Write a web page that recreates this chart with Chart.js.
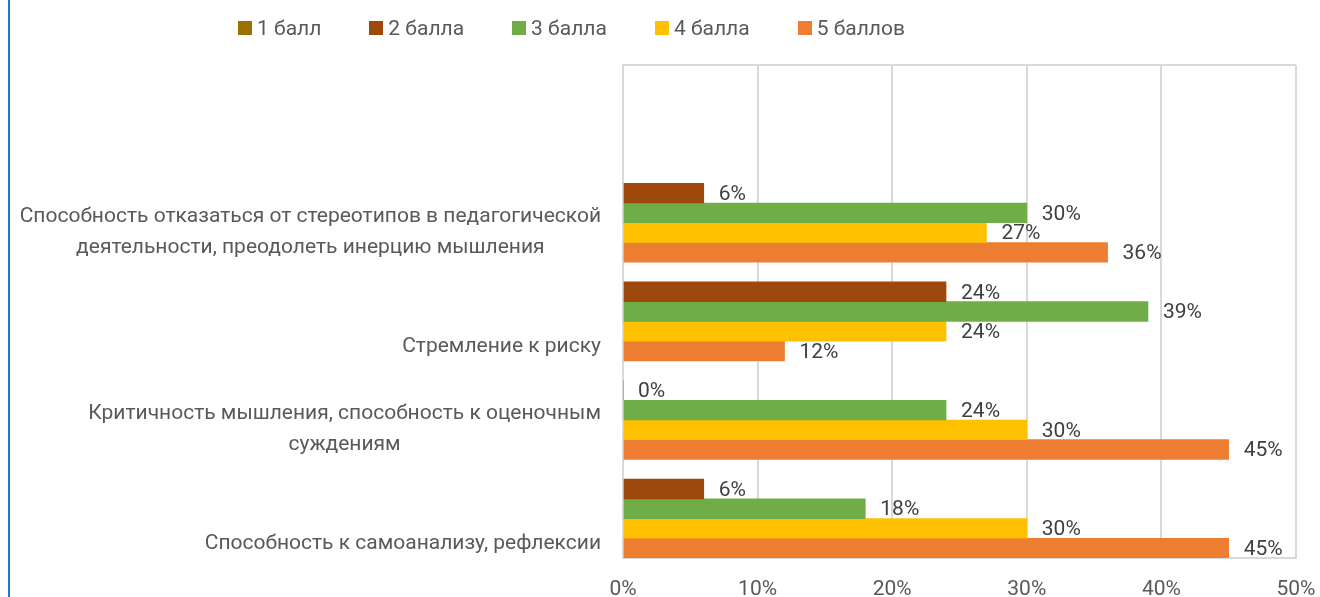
<!DOCTYPE html>
<html><head><meta charset="utf-8">
<script src="https://cdn.jsdelivr.net/npm/chart.js@4/dist/chart.umd.min.js"></script>
<style>
html,body{margin:0;padding:0;background:#fff;}
#wrap{position:relative;width:1320px;height:597px;overflow:hidden;background:#fff;}
#edge{position:absolute;left:8px;top:0;width:2px;height:597px;background:#1F78D0;}
#legend{position:absolute;left:238px;top:14px;height:28px;display:flex;align-items:center;font-family:Roboto,sans-serif;font-size:21px;color:#595959;white-space:nowrap;}
.item{display:flex;align-items:center;margin-right:48px;}
.sw{width:14px;height:14px;margin-right:5px;display:inline-block;}
canvas{position:absolute;left:0;top:0;}
</style></head>
<body><div id="wrap"><canvas id="c" width="1320" height="597"></canvas><div id="edge"></div><div id="legend"></div></div>
<script>
const categories = [
  '',
  ['Способность отказаться от стереотипов в педагогической', 'деятельности, преодолеть инерцию мышления'],
  'Стремление к риску',
  ['Критичность мышления, способность к оценочным', 'суждениям'],
  'Способность к самоанализу, рефлексии'
];
const seriesNames = ['1 балл', '2 балла', '3 балла', '4 балла', '5 баллов'];
const score1 = [null, null, null, null, null];
const score2 = [null, 6, 24, 0, 6];
const score3 = [null, 30, 39, 24, 18];
const score4 = [null, 27, 24, 30, 30];
const score5 = [null, 36, 12, 45, 45];
const xTicks = [0, 10, 20, 30, 40, 50];
const colors = ['#997300', '#9E480E', '#70AD47', '#FFC000', '#ED7D31'];

const FONT = 'Roboto, sans-serif';
const FS = 21;
const GRID = '#D9D9D9';

// HTML legend built from the series names
const lg = document.getElementById('legend');
seriesNames.forEach((n, i) => {
  const it = document.createElement('div'); it.className = 'item';
  const sw = document.createElement('span'); sw.className = 'sw'; sw.style.background = colors[i];
  const tx = document.createElement('span'); tx.textContent = n;
  it.appendChild(sw); it.appendChild(tx); lg.appendChild(it);
});

const seriesData = [score1, score2, score3, score4, score5];

const plotBorder = {
  id: 'plotBorder',
  beforeDatasetsDraw(chart) {
    const {ctx, chartArea: a} = chart;
    ctx.save();
    ctx.strokeStyle = GRID; ctx.lineWidth = 2;
    ctx.beginPath(); ctx.moveTo(a.left, a.top); ctx.lineTo(a.right, a.top); ctx.stroke();
    ctx.restore();
  }
};

const valueLabels = {
  id: 'valueLabels',
  afterDatasetsDraw(chart) {
    const ctx = chart.ctx;
    ctx.save();
    ctx.font = FS + 'px ' + FONT;
    ctx.fillStyle = '#404040';
    ctx.textAlign = 'left'; ctx.textBaseline = 'middle';
    chart.data.datasets.forEach((ds, di) => {
      const meta = chart.getDatasetMeta(di);
      meta.data.forEach((el, i) => {
        const v = ds.data[i];
        if (v === null || v === undefined) return;
        ctx.fillText(v + '%', el.x + 15, el.y + 1.5);
      });
    });
    ctx.restore();
  }
};

const catLabels = {
  id: 'catLabels',
  afterDraw(chart) {
    const ctx = chart.ctx, ys = chart.scales.y, a = chart.chartArea;
    ctx.save();
    ctx.font = FS + 'px ' + FONT;
    ctx.fillStyle = '#595959';
    ctx.textAlign = 'center'; ctx.textBaseline = 'middle';
    categories.forEach((lab, i) => {
      const lines = Array.isArray(lab) ? lab : [lab];
      if (!lines.join('')) return;
      const c = ys.getPixelForValue(i);
      const maxW = Math.max(...lines.map(l => ctx.measureText(l).width));
      const cx = a.left - 22 - maxW / 2;
      lines.forEach((l, k) => ctx.fillText(l, cx, c + 35 - (lines.length - 1 - k) * 31));
    });
    ctx.restore();
  }
};

new Chart(document.getElementById('c'), {
  type: 'bar',
  data: {
    labels: categories,
    datasets: seriesNames.map((n, i) => ({
      label: n,
      data: seriesData[i],
      backgroundColor: colors[i],
      borderWidth: 0,
      categoryPercentage: 1,
      barPercentage: 1
    }))
  },
  options: {
    indexAxis: 'y',
    responsive: false,
    animation: false,
    layout: {padding: {top: 65, right: 24, bottom: 0, left: 0}},
    plugins: {legend: {display: false}, tooltip: {enabled: false}},
    scales: {
      x: {
        type: 'linear', min: 0, max: 50,
        afterBuildTicks: s => { s.ticks = xTicks.map(v => ({value: v})); },
        afterFit: s => { s.height = 39; s.paddingLeft = 0; s.paddingRight = 0; },
        ticks: {callback: v => v + '%', font: {family: FONT, size: FS}, color: '#595959', padding: 19, maxRotation: 0, autoSkip: false},
        grid: {color: GRID, lineWidth: 2, drawTicks: false},
        border: {display: true, color: GRID, width: 2}
      },
      y: {
        type: 'category',
        afterFit: s => { s.width = 623; s.paddingTop = 0; s.paddingBottom = 0; },
        ticks: {display: false},
        grid: {display: false, drawTicks: false},
        border: {display: true, color: GRID, width: 2}
      }
    }
  },
  plugins: [plotBorder, valueLabels, catLabels]
});
</script>
</body></html>
